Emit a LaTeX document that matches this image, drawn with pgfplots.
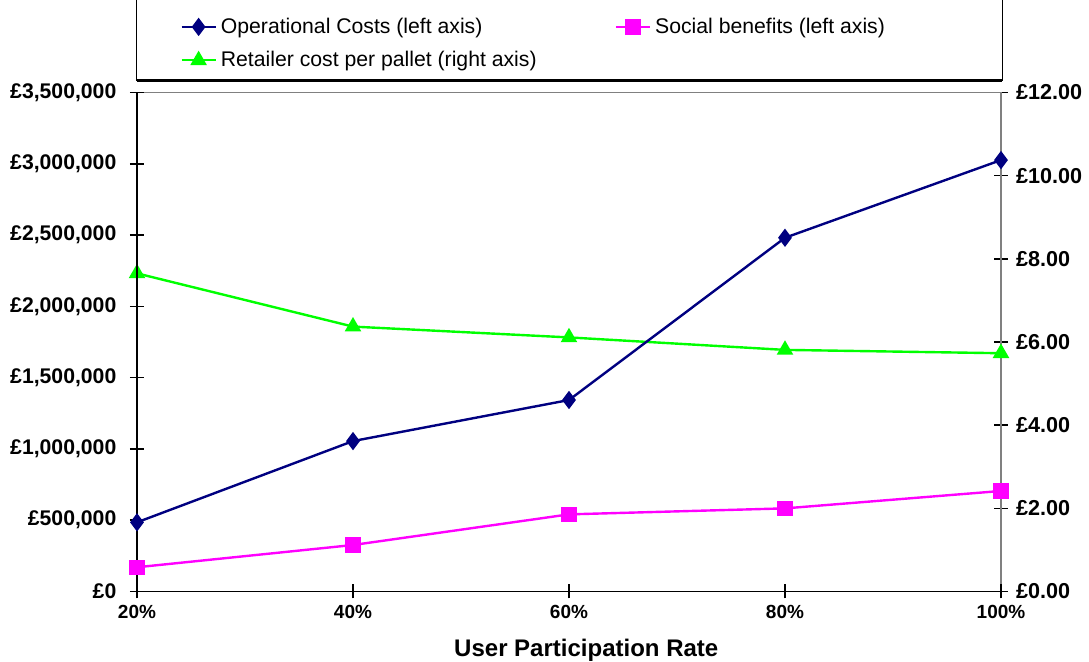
\documentclass[border=0pt]{standalone}
\usepackage{fontspec}
\setmainfont{Liberation Sans}
\usepackage{pgfplots}
\pgfplotsset{compat=1.18}
\definecolor{opnavy}{RGB}{0,0,128}
\definecolor{socmag}{RGB}{255,0,255}
\definecolor{retgreen}{RGB}{0,255,0}
\definecolor{axgray}{RGB}{128,128,128}
\begin{document}
\begin{tikzpicture}
\path[use as bounding box] (-68.5pt,-35.25pt) rectangle (476pt,295.75pt);
% right axis (drawn first so navy lies on top)
\begin{axis}[
  at={(0,0)}, anchor=south west,
  scale only axis, width=432pt, height=249.5pt,
  xmin=20, xmax=100, ymin=0, ymax=12,
  axis y line*=right, axis x line*=top,
  xtick=\empty,
  axis line style={axgray, line width=0.8pt},
  ytick={0,2,4,6,8,10,12},
  yticklabels={£0.00,£2.00,£4.00,£6.00,£8.00,£10.00,£12.00},
  tick align=center, major tick length=7pt,
  tick style={black, line width=0.8pt},
  yticklabel style={font=\bfseries\fontsize{10.8}{13}\selectfont, xshift=0.5pt},
]
\addplot[retgreen, line width=1.2pt, mark=triangle*, mark size=3.6pt, mark options={solid}]
  coordinates {(20,7.65) (40,6.37) (60,6.11) (80,5.81) (100,5.73)};
\end{axis}
% left axis
\begin{axis}[
  at={(0,0)}, anchor=south west,
  scale only axis, width=432pt, height=249.5pt,
  xmin=20, xmax=100, ymin=0, ymax=3500000,
  axis x line*=bottom, axis y line*=left,
  axis line style={black, line width=0.8pt},
  xtick={20,40,60,80,100},
  xticklabels={20\%,40\%,60\%,80\%,100\%},
  ytick={0,500000,1000000,1500000,2000000,2500000,3000000,3500000},
  yticklabels={£0,{£500,000},{£1,000,000},{£1,500,000},{£2,000,000},{£2,500,000},{£3,000,000},{£3,500,000}},
  scaled y ticks=false,
  tick align=center, major tick length=7pt,
  tick style={black, line width=0.8pt},
  yticklabel style={font=\bfseries\fontsize{10.6}{13}\selectfont, xshift=-3.3pt},
  xticklabel style={font=\bfseries\fontsize{9.5}{11}\selectfont, yshift=0.4pt},
  xlabel={User Participation Rate},
  xlabel style={font=\bfseries\fontsize{12}{14}\selectfont, at={(axis description cs:0.52,0)}, anchor=base, yshift=-32.5pt},
  clip=false,
  legend columns=2,
  legend cell align=left,
  legend style={at={(rel axis cs:0.0497,1.098)}, anchor=west, draw=none, fill=none,
    inner sep=0pt, row sep=3.5pt,
    font=\fontsize{10.6}{12.5}\selectfont,
    /tikz/every even column/.append style={column sep=37pt}},
]
\draw[black, line width=0.5pt] (rel axis cs:0,1.025) rectangle (rel axis cs:1.0017,1.1854);
\draw[black, line width=1.5pt] (rel axis cs:0,1.025) -- (rel axis cs:1.0017,1.025);
\addplot[opnavy, line width=1.2pt, mark=diamond*, mark size=3.6pt, mark options={solid}]
  coordinates {(20,485000) (40,1055000) (60,1343000) (80,2481000) (100,3026000)};
\addlegendentry{Operational Costs (left axis)}
\addplot[socmag, line width=1.2pt, mark=square*, mark size=3.2pt, mark options={solid}]
  coordinates {(20,170000) (40,326000) (60,541000) (80,583000) (100,705000)};
\addlegendentry{Social benefits (left axis)}
\addlegendimage{retgreen, line width=1.2pt, mark=triangle*, mark size=3.6pt, mark options={solid}}
\addlegendentry{Retailer cost per pallet (right axis)}
\end{axis}
\end{tikzpicture}
\end{document}
